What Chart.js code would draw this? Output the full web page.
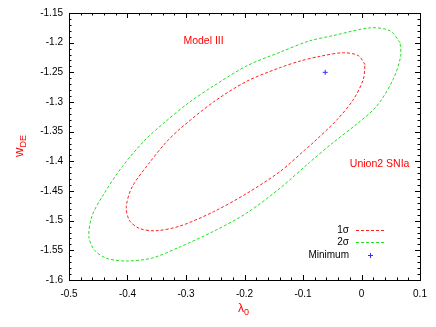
<!DOCTYPE html>
<html>
<head>
<meta charset="utf-8">
<script src="https://cdn.jsdelivr.net/npm/chart.js@4/dist/chart.umd.min.js"></script>
<style>
  html, body { margin: 0; padding: 0; background: #fff; }
  canvas { display: block; }
</style>
</head>
<body>
<canvas id="chart" width="436" height="327"></canvas>
<script>
// --- Data ---
// 1 sigma contour (red), traced around the ellipse
const sigma1X = [0.006, -0.005, -0.031, -0.071, -0.105, -0.139, -0.196, -0.253, -0.310, -0.335, -0.363, -0.392, -0.402, -0.397, -0.380, -0.352, -0.310, -0.253, -0.196, -0.139, -0.097, -0.082, -0.042, -0.014, 0.003, 0.006];
const sigma1Y = [-1.237, -1.222, -1.217, -1.223, -1.231, -1.242, -1.265, -1.300, -1.345, -1.369, -1.403, -1.443, -1.476, -1.499, -1.513, -1.517, -1.509, -1.485, -1.454, -1.417, -1.381, -1.368, -1.330, -1.296, -1.262, -1.237];
// 2 sigma contour (green)
const sigma2X = [0.066, 0.049, 0.015, -0.048, -0.089, -0.139, -0.196, -0.253, -0.295, -0.335, -0.370, -0.409, -0.443, -0.461, -0.466, -0.457, -0.437, -0.403, -0.358, -0.310, -0.253, -0.196, -0.139, -0.089, -0.048, -0.008, 0.026, 0.054, 0.067, 0.066];
const sigma2Y = [-1.200, -1.180, -1.175, -1.188, -1.197, -1.216, -1.239, -1.273, -1.301, -1.333, -1.364, -1.409, -1.459, -1.493, -1.527, -1.549, -1.563, -1.568, -1.563, -1.544, -1.518, -1.487, -1.445, -1.402, -1.368, -1.337, -1.307, -1.262, -1.223, -1.200];
// best fit point
const minimumX = [-0.062];
const minimumY = [-1.250];

const xTicks = [-0.5, -0.4, -0.3, -0.2, -0.1, 0, 0.1];
const yTicks = [-1.6, -1.55, -1.5, -1.45, -1.4, -1.35, -1.3, -1.25, -1.2, -1.15];

const toPoints = (xs, ys) => xs.map((x, i) => ({ x: x, y: ys[i] }));
const fmt = v => String(+v.toFixed(2));

// --- Frame, inward ticks on all four sides, texts and key ---
const decorPlugin = {
    id: 'decor',
    afterDraw(chart) {
        const ctx = chart.ctx;
        const a = chart.chartArea;
        const xs = chart.scales.x, ys = chart.scales.y;
        ctx.save();
        ctx.strokeStyle = '#000';
        ctx.lineWidth = 1;
        ctx.strokeRect(Math.round(a.left) + 0.5, Math.round(a.top) + 0.5,
            Math.round(a.right - a.left), Math.round(a.bottom - a.top));

        ctx.beginPath();
        // x ticks: major every 0.1, minor every 0.02
        for (let i = 0; i <= 30; i++) {
            const v = -0.5 + i * 0.02;
            const px = Math.round(xs.getPixelForValue(v)) + 0.5;
            const len = i % 5 === 0 ? 5 : 2.5;
            ctx.moveTo(px, a.bottom); ctx.lineTo(px, a.bottom - len);
            ctx.moveTo(px, a.top); ctx.lineTo(px, a.top + len);
        }
        // y ticks: major every 0.05, minor every 0.01
        for (let i = 0; i <= 45; i++) {
            const v = -1.6 + i * 0.01;
            const py = Math.round(ys.getPixelForValue(v)) + 0.5;
            const len = i % 5 === 0 ? 5 : 2.5;
            ctx.moveTo(a.left, py); ctx.lineTo(a.left + len, py);
            ctx.moveTo(a.right, py); ctx.lineTo(a.right - len, py);
        }
        ctx.stroke();

        // annotations
        ctx.fillStyle = '#ff0000';
        ctx.font = '10.5px "Liberation Sans", Arial, sans-serif';
        ctx.textAlign = 'center';
        ctx.textBaseline = 'middle';
        ctx.fillText('Model III', xs.getPixelForValue(-0.270), ys.getPixelForValue(-1.198));
        ctx.fillText('Union2 SNIa', xs.getPixelForValue(0.031), ys.getPixelForValue(-1.404));

        // x axis title: lambda_0
        ctx.textAlign = 'left';
        ctx.textBaseline = 'alphabetic';
        ctx.font = '12px "Liberation Sans", Arial, sans-serif';
        ctx.fillText('λ', 238, 312);
        const lw = ctx.measureText('λ').width;
        ctx.font = '9px "Liberation Sans", Arial, sans-serif';
        ctx.fillText('0', 238 + lw, 315);

        // y axis title: w_DE
        ctx.save();
        ctx.translate(23, 157);
        ctx.rotate(-Math.PI / 2);
        ctx.font = '13px "Liberation Sans", Arial, sans-serif';
        ctx.fillText('w', 0, 0);
        const ww = ctx.measureText('w').width;
        ctx.font = '9px "Liberation Sans", Arial, sans-serif';
        ctx.fillText('DE', ww, 3);
        ctx.restore();

        // key
        ctx.font = '10px "Liberation Sans", Arial, sans-serif';
        ctx.fillStyle = '#000';
        ctx.textAlign = 'right';
        ctx.textBaseline = 'middle';
        const keys = [
            { text: '1σ', y: 230, color: chart.data.datasets[0].borderColor },
            { text: '2σ', y: 242, color: chart.data.datasets[1].borderColor }
        ];
        keys.forEach(k => {
            ctx.fillText(k.text, 349, k.y);
            ctx.save();
            ctx.strokeStyle = k.color;
            ctx.setLineDash([3, 2]);
            ctx.beginPath();
            ctx.moveTo(356, k.y + 0.5);
            ctx.lineTo(384, k.y + 0.5);
            ctx.stroke();
            ctx.restore();
        });
        ctx.fillText('Minimum', 349, 255);
        ctx.strokeStyle = chart.data.datasets[2].borderColor;
        ctx.beginPath();
        ctx.moveTo(368, 255.5); ctx.lineTo(373, 255.5);
        ctx.moveTo(370.5, 253); ctx.lineTo(370.5, 258);
        ctx.stroke();
        ctx.restore();
    }
};

const tickFont = { family: '"Liberation Sans", Arial, sans-serif', size: 10 };

new Chart(document.getElementById('chart').getContext('2d'), {
    type: 'scatter',
    data: {
        datasets: [
            {
                label: '1σ',
                data: toPoints(sigma1X, sigma1Y),
                showLine: true,
                borderColor: '#ff2020',
                borderWidth: 1,
                borderDash: [3, 2],
                pointRadius: 0,
                tension: 0.3,
                fill: false
            },
            {
                label: '2σ',
                data: toPoints(sigma2X, sigma2Y),
                showLine: true,
                borderColor: '#20e020',
                borderWidth: 1,
                borderDash: [3, 2],
                pointRadius: 0,
                tension: 0.3,
                fill: false
            },
            {
                label: 'Minimum',
                data: toPoints(minimumX, minimumY),
                showLine: false,
                pointStyle: 'cross',
                pointRadius: 2.5,
                borderColor: '#3030ff',
                borderWidth: 1
            }
        ]
    },
    options: {
        responsive: false,
        animation: false,
        layout: { padding: { top: 13, right: 16, left: 0, bottom: 0 } },
        plugins: {
            legend: { display: false },
            tooltip: { enabled: false }
        },
        scales: {
            x: {
                type: 'linear',
                min: -0.5,
                max: 0.1,
                grid: { display: false, drawTicks: false },
                border: { display: false },
                afterBuildTicks: s => { s.ticks = xTicks.map(v => ({ value: v })); },
                afterFit: s => { s.height = 47; },
                ticks: { color: '#000', font: tickFont, padding: 8, maxRotation: 0, callback: v => fmt(v) }
            },
            y: {
                type: 'linear',
                min: -1.6,
                max: -1.15,
                grid: { display: false, drawTicks: false },
                border: { display: false },
                afterBuildTicks: s => { s.ticks = yTicks.map(v => ({ value: v })); },
                afterFit: s => { s.width = 69; },
                ticks: { color: '#000', font: tickFont, padding: 6, callback: v => fmt(v) }
            }
        }
    },
    plugins: [decorPlugin]
});
</script>
</body>
</html>
